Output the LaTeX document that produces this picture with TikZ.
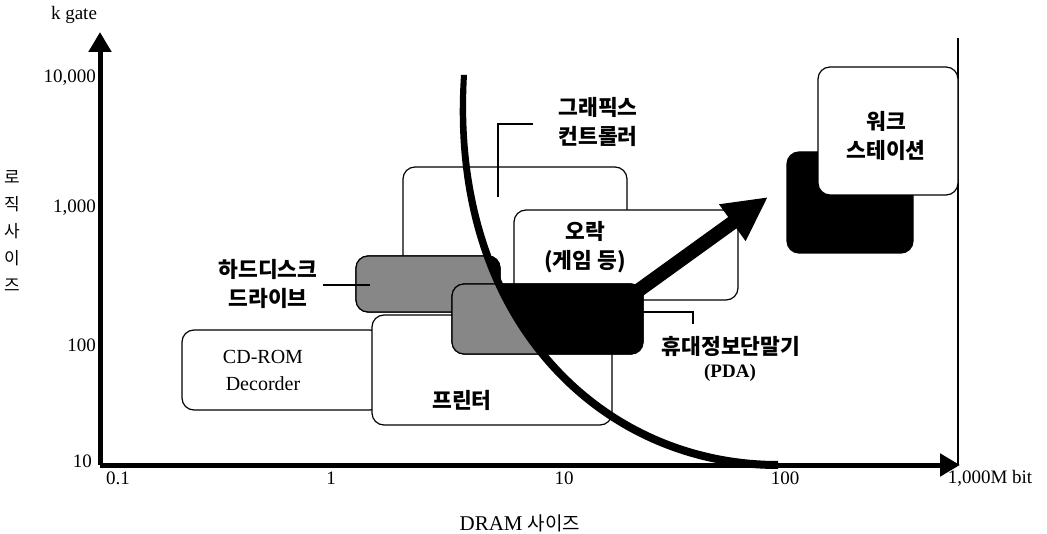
\documentclass[tikz,border=0pt]{standalone}
\usepackage{fontspec}
\setmainfont{Liberation Serif}
\newfontfamily\kr{Noto Sans CJK KR}
\usetikzlibrary{arrows.meta}
\begin{document}
\begin{tikzpicture}[x=1pt,y=-1pt,
  box/.style={draw, line width=1.2pt, rounded corners=12pt, fill=white, inner sep=0pt, outer sep=0pt, anchor=north west},
  darkbox/.style={box, fill=black},
  krlbl/.style={font=\kr\bfseries\fontsize{21.5}{29}\selectfont, align=center, inner sep=0pt},
  serif/.style={font=\fontsize{19}{26}\selectfont, align=center, inner sep=0pt},
  axis/.style={line width=5pt, -{Triangle[length=20pt,width=22pt]}},
  leader/.style={line width=1.1pt},
  greyfill/.style={fill=black!47}]
\useasboundingbox (0,0) rectangle (1047,534);

% axes
\coordinate (O) at (100,465);
\coordinate (ytip) at (100,32);
\coordinate (xtip) at (960,465);
\coordinate (rtop) at (958,38);
\coordinate (rbot) at (958,465);
\draw[line width=1.2pt] (rtop) -- (rbot);

% lower boxes
\node[box, minimum width=200pt, minimum height=80pt] (cd) at (182,330) {};
\node[box, minimum width=240pt, minimum height=110pt] (prn) at (372,315) {};
\node[box, minimum width=224pt, minimum height=125pt] (gfx) at (403,167) {};
\node[box, minimum width=224pt, minimum height=90pt] (game) at (514,210) {};

% hard disk box
\node[darkbox, minimum width=144pt, minimum height=56pt] (hdd) at (356,256) {};
\begin{scope}
\clip[rounded corners=12pt] (hdd.north west) rectangle (hdd.south east);
\fill[greyfill] (0,0) -- (463,0) -- (463,75) .. controls (448,320) and (600,465) .. (778,465) -- (778,534) -- (0,534) -- cycle;
\end{scope}
\draw[line width=1.2pt, rounded corners=12pt] (hdd.north west) rectangle (hdd.south east);

% PDA box
\node[darkbox, minimum width=191pt, minimum height=70pt] (pda) at (452,284) {};
\begin{scope}
\clip[rounded corners=12pt] (pda.north west) rectangle (pda.south east);
\fill[greyfill] (0,0) -- (463,0) -- (463,75) .. controls (448,320) and (600,465) .. (778,465) -- (778,534) -- (0,534) -- cycle;
\end{scope}
\draw[line width=1.2pt, rounded corners=12pt] (pda.north west) rectangle (pda.south east);

% big trend arrow
\coordinate (astart) at (628,298);
\coordinate (atip) at (768,197);
\draw[line width=14pt, -{Triangle[length=44pt,width=42pt]}] (astart) -- (atip);

% workstation boxes
\node[darkbox, minimum width=126pt, minimum height=101pt] (wsb) at (787,152) {};
\node[box, minimum width=140pt, minimum height=128pt] (ws) at (818,67) {};

% curve
\fill (461,75) .. controls (444,322) and (600,469) .. (778,469)
   -- (778,461) .. controls (604,461) and (453,318) .. (467,75) -- cycle;

% axes on top
\draw[axis] (O) -- (ytip);
\draw[axis] (O) -- (xtip);

% axis labels
\node[serif] (kgate) at (74,15) {k gate};
\node[serif, anchor=east] (y4) at (96,78) {10,000};
\node[serif, anchor=east] (y3) at (96,208) {1,000};
\node[serif, anchor=east] (y2) at (96,345) {100};
\node[serif, anchor=east] (y1) at (92,461) {10};
\node[serif] (x0) at (118,478) {0.1};
\node[serif] (x1) at (331,478) {1};
\node[serif] (x2) at (564,478) {10};
\node[serif] (x3) at (785,478) {100};
\node[serif] (x4) at (990,478) {1,000M bit};
\node[inner sep=0pt] (xlab) at (520,523) {{\fontsize{21}{24}\selectfont DRAM }{\kr\fontsize{19}{24}\selectfont 사이즈}};
\node[align=center, inner sep=0pt, font=\kr\fontsize{17}{26.8}\selectfont] (ylab) at (12,231) {로\\직\\사\\이\\즈};

% box labels
\node[font=\fontsize{20}{27}\selectfont, align=center, inner sep=0pt] (cdt) at (263,370) {CD-ROM\\Decorder};
\node[krlbl] (prnt) at (462,400) {프린터};
\node[krlbl] (gamet) at (585,247) {오락\\(게임 등)};
\node[krlbl] (wst) at (886,136) {워크\\스테이션};
\node[krlbl] (gfxt) at (598,122) {그래픽스\\컨트롤러};
\node[krlbl] (hddt) at (268,284) {하드디스크\\드라이브};
\node[krlbl] (pdat) at (731,346) {휴대정보단말기};
\node[font=\bfseries\fontsize{19}{22}\selectfont, inner sep=0pt] (pdaa) at (730,373) {(PDA)};

% leaders
\coordinate (g1) at (498,197);
\coordinate (g2) at (498,124);
\coordinate (g3) at (533,124);
\draw[leader] (g1) -- (g2) -- (g3);
\coordinate (h1) at (323,285);
\coordinate (h2) at (370,285);
\draw[leader] (h1) -- (h2);
\coordinate (p1) at (643,312);
\coordinate (p2) at (693,312);
\coordinate (p3) at (693,324);
\draw[leader] (p1) -- (p2) -- (p3);
\end{tikzpicture}
\end{document}
